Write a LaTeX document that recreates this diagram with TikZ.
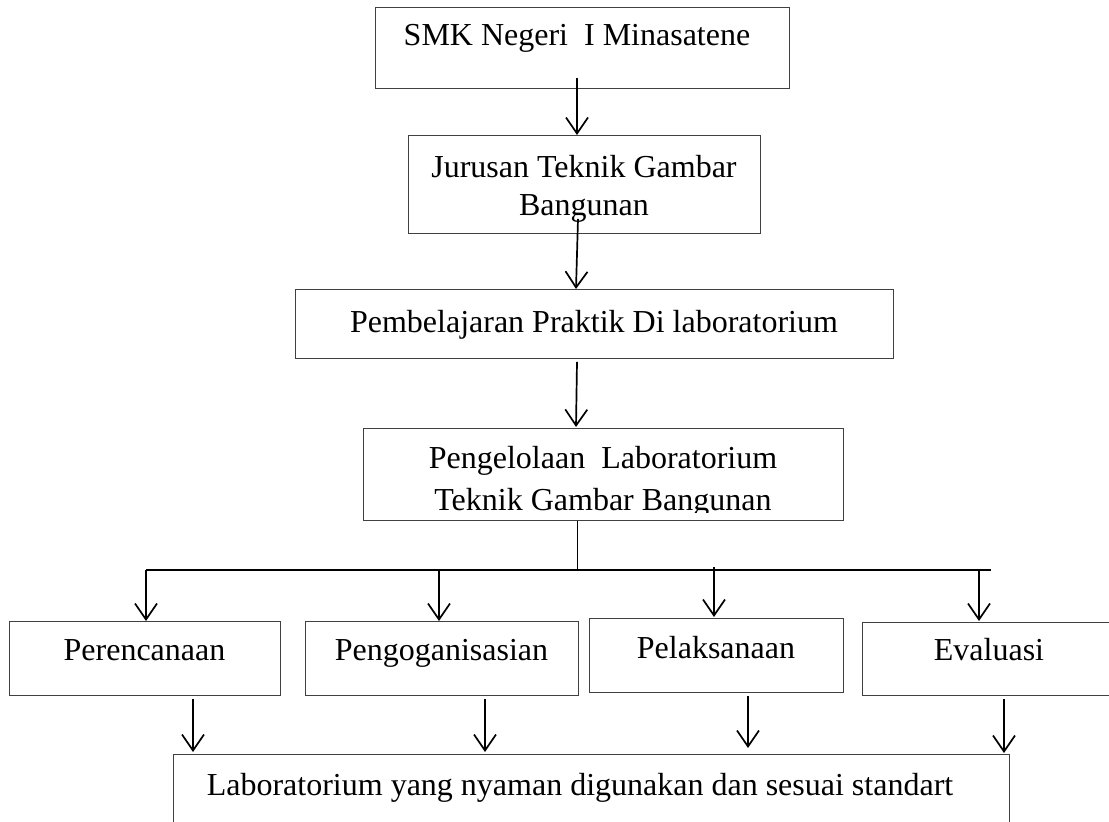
\documentclass[tikz,border=0pt]{standalone}
\usepackage{fontspec}
\setmainfont{Liberation Serif}
\usepackage{tikz}
\usetikzlibrary{positioning}
\usetikzlibrary{arrows.meta}
\usetikzlibrary{calc}
\tikzset{box/.style={draw=black!75, line width=0.8pt, anchor=north, inner xsep=0pt, inner ysep=0pt, font=\fontsize{32}{38}\selectfont, align=center},
  arr/.style={-{Straight Barb[length=16pt,width=22pt]}, line width=1.7pt},
  bar/.style={line width=2.4pt},}

\begin{document}
\begin{tikzpicture}[x=1pt, y=-1pt]
	\useasboundingbox (0,0) rectangle (1109,822);
	\clip (0,0) rectangle (1109,822);
	\fill[white] (0,0) rectangle (1109,822);

	% main column
	\node[box, minimum width=414pt, text height=38pt, text depth=43pt] (smk) at (582,7) {SMK Negeri\ \ I Minasatene\hspace*{10pt}};
	\node[box, minimum width=352pt, text height=80pt, text depth=18pt] (jurusan) at (584,135) {Jurusan Teknik Gambar\\Bangunan};
	\node[box, minimum width=598pt, text height=43pt, text depth=26pt] (praktik) at (594,289) {Pembelajaran Praktik Di laboratorium};
	\node[box, minimum width=480pt, text height=82pt, text depth=10pt, font=\fontsize{32}{42}\selectfont] (kelola) at (603,428) {Pengelolaan\ \ Laboratorium\\Teknik Gambar Bangunan};
	\fill[white] ($(kelola.south west)+(1.4,-8)$) rectangle ($(kelola.south east)+(-1.4,-1.2)$);

	% four functions
	\node[box, minimum width=271pt, text height=39pt, text depth=35pt] (rencana) at (144.5,621) {Perencanaan};
	\node[box, minimum width=273pt, text height=39pt, text depth=35pt] (organisasi) at (441.5,621) {Pengoganisasian};
	\node[box, minimum width=254pt, text height=40pt, text depth=34pt] (laksana) at (716,618) {Pelaksanaan};
	\node[box, minimum width=254pt, text height=38pt, text depth=35pt] (evaluasi) at (989,622) {Evaluasi};
	\node[box, minimum width=836pt, text height=41pt, text depth=90pt] (hasil) at (591,754) {Laboratorium yang nyaman digunakan dan sesuai standart\hspace*{22pt}};

	\coordinate (barL) at (146,570);
	\coordinate (barR) at (991,570);

	\draw[arr] ($(smk.south)+(-5,-11)$) -- ($(jurusan.north)+(-7,0)$);
	\draw[arr] ($(jurusan.south)+(-6,-15)$) -- ($(praktik.north)+(-18,0)$);
	\draw[arr] ($(praktik.south)+(-17,3)$) -- ($(kelola.north)+(-27,-1)$);
	\draw[line width=1pt] ($(kelola.south)+(-26,0)$) -- ($(kelola.south)+(-26,50)$);

	\draw[bar] (barL) -- (barR);
	\draw[arr] (barL) -- (barL |- rencana.north);
	\draw[arr] ($(organisasi.north |- barL)+(-2.5,0)$) -- ($(organisasi.north)+(-2.5,0)$);
	\draw[arr] ($(laksana.north |- barL)+(-2,-3)$) -- ($(laksana.north)+(-2,-1)$);
	\draw[arr] ($(evaluasi.north |- barL)+(-10,0)$) -- ($(evaluasi.north)+(-10,-1)$);

	\foreach \n/\dx/\up in {rencana/48.5/2, organisasi/43.5/2, laksana/32/6, evaluasi/15/1}
	  \draw[arr] ($(\n.south)+(\dx,3)$) -- ($(\n.south |- hasil.north)+(\dx,-\up)$);
\end{tikzpicture}
\end{document}
